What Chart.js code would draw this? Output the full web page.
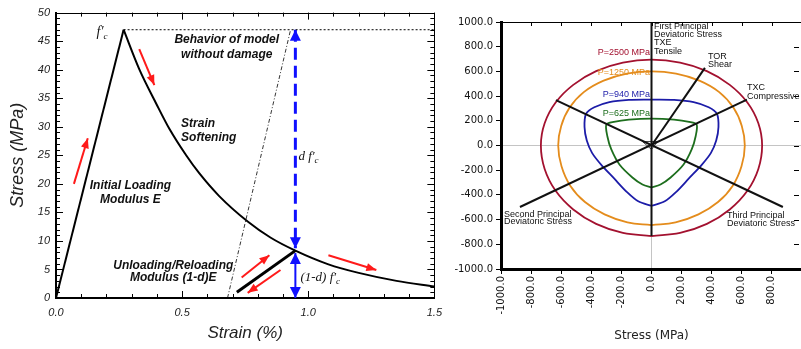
<!DOCTYPE html>
<html>
<head>
    <title>Damage model</title>
    <meta http-equiv="content-type" content="text/html;charset=UTF-8">
    <script src="https://cdn.jsdelivr.net/npm/chart.js"></script>
    <style>
        html, body {
            margin: 0;
            padding: 0;
            background: #fff;
        }

        body {
            width: 801px;
            height: 349px;
            overflow: hidden;
            position: relative;
        }

        .box {
            position: absolute;
            top: 0;
        }

        #left { left: 0; }
        #right { left: 450px; }
    </style>
</head>
<body>
<div class="box" id="left"><canvas id="stressChart" width="450" height="349"></canvas></div>
<div class="box" id="right"><canvas id="planeChart" width="360" height="349"></canvas></div>
<script>
    // ---------- left panel: stress vs strain ----------
    const strainTicks = [0, 0.5, 1.0, 1.5];
    const strainLabels = ['0.0', '0.5', '1.0', '1.5'];
    const stressTicks = [0, 5, 10, 15, 20, 25, 30, 35, 40, 45, 50];
    const stressLabels = ['0', '5', '10', '15', '20', '25', '30', '35', '40', '45', '50'];

    const loading = [[0, 0], [0.268, 47]];
    const softening = [[0.268, 47], [0.33, 40.1], [0.398, 34.0], [0.45, 29.6], [0.516, 25.0], [0.567, 21.9],
        [0.646, 17.9], [0.76, 13.4], [0.85, 10.6], [0.949, 8.3], [1.08, 5.9], [1.2, 4.4], [1.35, 3.0], [1.5, 2.0]];
    const unloading = [[0.717, 1.0], [0.949, 8.3]];
    const noDamage = [[0.268, 47], [1.5, 47]];
    const reloadPath = [[0.68, 0], [0.93, 47]];
    const damageArrow = [[0.949, 47], [0.949, 8.7]];
    const residualArrow = [[0.949, 7.9], [0.949, 0]];
    const redArrows = [
        [[0.071, 20], [0.126, 28]],
        [[0.33, 43.6], [0.39, 37.3]],
        [[0.736, 3.6], [0.846, 7.5]],
        [[0.89, 4.9], [0.76, 0.9]],
        [[1.08, 7.5], [1.27, 4.9]]
    ];

    const stressNotes = [
        {text: 'f\u2032', sub: 'c', x: 0.161, y: 46.5, font: 'italic 14px "Liberation Serif", serif', subFont: 'italic 9px "Liberation Serif", serif'},
        {text: 'Behavior of model', x: 0.677, y: 45.3, align: 'center', font: 'bold italic 12px "Liberation Sans", Arial, sans-serif'},
        {text: 'without damage', x: 0.677, y: 42.7, align: 'center', font: 'bold italic 12px "Liberation Sans", Arial, sans-serif'},
        {text: 'Strain', x: 0.496, y: 30.6, font: 'bold italic 12px "Liberation Sans", Arial, sans-serif'},
        {text: 'Softening', x: 0.496, y: 28.0, font: 'bold italic 12px "Liberation Sans", Arial, sans-serif'},
        {text: 'd f\u2032', sub: 'c', x: 0.961, y: 24.8, font: 'italic 13px "Liberation Serif", serif', subFont: 'italic 9px "Liberation Serif", serif'},
        {text: 'Initial Loading', x: 0.295, y: 19.6, align: 'center', font: 'bold italic 12px "Liberation Sans", Arial, sans-serif'},
        {text: 'Modulus E', x: 0.295, y: 17.2, align: 'center', font: 'bold italic 12px "Liberation Sans", Arial, sans-serif'},
        {text: 'Unloading/Reloading', x: 0.465, y: 5.7, align: 'center', font: 'bold italic 12px "Liberation Sans", Arial, sans-serif'},
        {text: 'Modulus (1-d)E', x: 0.465, y: 3.5, align: 'center', font: 'bold italic 12px "Liberation Sans", Arial, sans-serif'},
        {text: '(1-d) f\u2032', sub: 'c', x: 0.969, y: 3.5, font: 'italic 13px "Liberation Serif", serif', subFont: 'italic 9px "Liberation Serif", serif'}
    ];

    // ---------- right panel: deviatoric plane ----------
    const planeTicks = [-1000, -800, -600, -400, -200, 0, 200, 400, 600, 800, 1000];
    const planeLabels = ['-1000.0', '-800.0', '-600.0', '-400.0', '-200.0', '0.0', '200.0', '400.0', '600.0', '800.0', '1000.0'];
    const planeXTicks = [-1000, -800, -600, -400, -200, 0, 200, 400, 600, 800];

    const curve2500 = [[0, -733], [190, -708], [368, -635], [520, -518], [637, -367], [710, -190], [735, 0], [710, 180],
        [637, 348], [520, 491], [368, 602], [190, 671], [0, 695], [-190, 671], [-368, 602], [-520, 491], [-637, 348],
        [-710, 180], [-735, 0], [-710, -190], [-637, -367], [-520, -518], [-368, -635], [-190, -708], [0, -733]];
    const curve1250 = [[0, -644], [160, -622], [312, -558], [442, -458], [540, -325], [598, -168], [620, 0], [600, 158],
        [545, 305], [450, 432], [318, 525], [163, 582], [0, 600], [-163, 582], [-318, 525], [-450, 432], [-545, 305],
        [-600, 158], [-620, 0], [-598, -168], [-540, -325], [-442, -458], [-312, -558], [-160, -622], [0, -644]];
    const curve940 = [[0, -488], [88, -452], [165, -375], [250, -265], [335, -155], [395, -60], [430, 40], [445, 150],
        [435, 256], [380, 310], [280, 352], [150, 370], [0, 372], [-150, 370], [-280, 352], [-380, 310], [-435, 256],
        [-445, 150], [-430, 40], [-395, -60], [-335, -155], [-250, -265], [-165, -375], [-88, -452], [0, -488]];
    const curve625 = [[0, -340], [60, -316], [127, -259], [213, -154], [267, -32], [293, 73], [300, 170], [250, 192],
        [150, 210], [0, 218], [-150, 210], [-250, 192], [-300, 170], [-293, 73], [-267, -32], [-213, -154],
        [-127, -259], [-60, -316], [0, -340]];

    const firstAxis = [[0, 1000], [0, -733]];
    const txcLine = [[-874, -498], [634, 372]];
    const thirdLine = [[-635, 368], [873, -498]];
    const torLine = [[0, 0], [355, 628]];
    const originMark = [[-60, 32], [40, 32], [0, -32], [-60, 32]];

    const planeNotes = [
        {text: 'First Principal', x: 17, y: 960},
        {text: 'Deviatoric Stress', x: 17, y: 895},
        {text: 'TXE', x: 17, y: 830},
        {text: 'Tensile', x: 17, y: 757},
        {text: 'TOR', x: 375, y: 717},
        {text: 'Shear', x: 375, y: 652},
        {text: 'TXC', x: 635, y: 466},
        {text: 'Compressive', x: 635, y: 393},
        {text: 'Second Principal', x: -980, y: -555},
        {text: 'Deviatoric Stress', x: -980, y: -619},
        {text: 'Third Principal', x: 502, y: -563},
        {text: 'Deviatoric Stress', x: 502, y: -628},
        {text: 'P=2500 MPa', x: -10, y: 749, align: 'right', color: '#a3112f'},
        {text: 'P=1250 MPa', x: -10, y: 595, align: 'right', color: '#e48c1c'},
        {text: 'P=940 MPa', x: -10, y: 409, align: 'right', color: '#1c1ca8'},
        {text: 'P=625 MPa', x: -10, y: 263, align: 'right', color: '#1d6e1d'}
    ];

    const pts = a => a.map(p => ({x: p[0], y: p[1]}));

    function line(data, color, width, extra) {
        return Object.assign({
            data: pts(data),
            showLine: true,
            borderColor: color,
            backgroundColor: color,
            borderWidth: width,
            pointRadius: 0,
            fill: false
        }, extra || {});
    }

    // text written at data positions
    function notesPlugin(id, items, defFont) {
        return {
            id: id,
            afterDatasetsDraw(chart) {
                const {ctx, scales: {x, y}} = chart;
                ctx.save();
                ctx.textBaseline = 'middle';
                items.forEach(n => {
                    const px = x.getPixelForValue(n.x), py = y.getPixelForValue(n.y);
                    const align = n.align || 'left';
                    ctx.font = n.font || defFont;
                    ctx.fillStyle = n.color || '#111';
                    ctx.textAlign = align;
                    ctx.fillText(n.text, px, py);
                    if (n.sub) {
                        const w = ctx.measureText(n.text).width;
                        const end = align === 'center' ? px + w / 2 : (align === 'right' ? px : px + w);
                        ctx.font = n.subFont;
                        ctx.textAlign = 'left';
                        ctx.fillText(n.sub, end, py + 4);
                    }
                });
                ctx.restore();
            }
        };
    }

    // filled arrow heads on datasets that ask for them
    const arrowPlugin = {
        id: 'arrowHeads',
        afterDatasetsDraw(chart) {
            const ctx = chart.ctx;
            chart.data.datasets.forEach((ds, i) => {
                if (!ds.arrowEnd && !ds.arrowStart) return;
                const p = chart.getDatasetMeta(i).data;
                const a = p[0], b = p[p.length - 1];
                const head = (from, to) => {
                    const ang = Math.atan2(to.y - from.y, to.x - from.x);
                    const L = ds.headLen, W = ds.headWidth / 2;
                    ctx.beginPath();
                    ctx.moveTo(to.x, to.y);
                    ctx.lineTo(to.x - L * Math.cos(ang) + W * Math.sin(ang), to.y - L * Math.sin(ang) - W * Math.cos(ang));
                    ctx.lineTo(to.x - L * Math.cos(ang) - W * Math.sin(ang), to.y - L * Math.sin(ang) + W * Math.cos(ang));
                    ctx.closePath();
                    ctx.fill();
                };
                ctx.save();
                ctx.fillStyle = ds.borderColor;
                if (ds.arrowEnd) head(a, b);
                if (ds.arrowStart) head(b, a);
                ctx.restore();
            });
        }
    };

    // inner ticks and the top/right frame of the stress-strain plot
    const stressFrame = {
        id: 'stressFrame',
        afterDraw(chart) {
            const {ctx, chartArea: c, scales: {x, y}} = chart;
            const r = v => Math.round(v) + 0.5;
            ctx.save();
            ctx.strokeStyle = '#000';
            ctx.lineWidth = 1;
            ctx.beginPath();
            ctx.moveTo(c.left, r(c.top));
            ctx.lineTo(r(c.right), r(c.top));
            ctx.lineTo(r(c.right), c.bottom);
            for (let i = 0; i <= 15; i++) {
                const px = r(x.getPixelForValue(i / 10));
                const len = i % 5 === 0 ? 7 : 4;
                ctx.moveTo(px, c.bottom);
                ctx.lineTo(px, c.bottom - len);
                ctx.moveTo(px, c.top);
                ctx.lineTo(px, c.top + len);
            }
            for (let v = 0; v <= 50; v++) {
                const py = r(y.getPixelForValue(v));
                const len = v % 5 === 0 ? 7 : 4;
                ctx.moveTo(c.left, py);
                ctx.lineTo(c.left + len, py);
                ctx.moveTo(c.right, py);
                ctx.lineTo(c.right - len, py);
            }
            ctx.stroke();
            ctx.restore();
        }
    };

    const sansItalic = {family: '"Liberation Sans", Arial, sans-serif', style: 'italic'};

    const stressSets = [
        line(loading, '#000', 2),
        line(softening, '#000', 2, {cubicInterpolationMode: 'monotone'}),
        line(unloading, '#000', 3),
        line(noDamage, '#000', 1, {borderDash: [2, 2]}),
        line(reloadPath, '#000', 0.8, {borderDash: [4, 2, 1, 2]}),
        line(damageArrow, '#1010ff', 3, {borderDash: [12, 6], arrowEnd: true, arrowStart: true, headLen: 11, headWidth: 11}),
        line(residualArrow, '#1010ff', 2, {arrowEnd: true, arrowStart: true, headLen: 11, headWidth: 11})
    ];
    redArrows.forEach(a => stressSets.push(line(a, '#ff1a1a', 2, {arrowEnd: true, headLen: 10, headWidth: 8})));

    new Chart(document.getElementById('stressChart').getContext('2d'), {
        type: 'scatter',
        data: {datasets: stressSets},
        options: {
            responsive: false,
            animation: false,
            events: [],
            layout: {padding: {top: 10, right: 13, left: 0, bottom: 0}},
            plugins: {legend: {display: false}, tooltip: {enabled: false}},
            scales: {
                x: {
                    type: 'linear', min: 0, max: 1.5,
                    afterBuildTicks: s => { s.ticks = strainTicks.map(v => ({value: v})); },
                    afterFit: s => { s.height = 51; },
                    grid: {display: false, drawTicks: false},
                    border: {display: true, color: '#000', width: 2},
                    ticks: {
                        padding: 8, color: '#222', font: Object.assign({size: 11}, sansItalic),
                        callback: (v, i) => strainLabels[i]
                    },
                    title: {
                        display: true, text: 'Strain (%)', color: '#222',
                        font: Object.assign({size: 17}, sansItalic), padding: {top: 6, bottom: 6}
                    }
                },
                y: {
                    type: 'linear', min: 0, max: 50,
                    afterBuildTicks: s => { s.ticks = stressTicks.map(v => ({value: v})); },
                    afterFit: s => { s.width = 56; },
                    grid: {display: false, drawTicks: false},
                    border: {display: true, color: '#000', width: 2},
                    ticks: {
                        padding: 6, color: '#222', font: Object.assign({size: 11}, sansItalic),
                        callback: (v, i) => stressLabels[i]
                    },
                    title: {
                        display: true, text: 'Stress (MPa)', color: '#222',
                        font: Object.assign({size: 18}, sansItalic), padding: {top: 7, bottom: 7}
                    }
                }
            }
        },
        plugins: [stressFrame, arrowPlugin, notesPlugin('stressNotes', stressNotes, '12px sans-serif')]
    });

    // top border and right-hand ticks of the deviatoric plot
    const planeFrame = {
        id: 'planeFrame',
        afterDraw(chart) {
            const {ctx, chartArea: c, scales: {x, y}} = chart;
            const r = v => Math.round(v) + 0.5;
            ctx.save();
            ctx.strokeStyle = '#000';
            ctx.lineWidth = 1;
            ctx.beginPath();
            ctx.moveTo(c.left, r(c.top));
            ctx.lineTo(c.right, r(c.top));
            planeTicks.forEach(v => {
                const px = r(x.getPixelForValue(v));
                ctx.moveTo(px, c.top);
                ctx.lineTo(px, c.top + 4);
                const py = r(y.getPixelForValue(v));
                ctx.moveTo(c.right - 3, py);
                ctx.lineTo(c.right - 8, py);
            });
            ctx.stroke();
            ctx.restore();
        }
    };

    const zeroGrid = {
        display: true,
        drawOnChartArea: true,
        drawTicks: true,
        tickLength: 5,
        tickColor: '#000',
        color: c => (c.tick && c.tick.value === 0) ? '#c4c4c4' : 'rgba(0,0,0,0)'
    };
    const tickFont = {family: '"DejaVu Sans", Verdana, sans-serif', size: 10};

    new Chart(document.getElementById('planeChart').getContext('2d'), {
        type: 'scatter',
        data: {
            datasets: [
                line(firstAxis, '#111', 2),
                line(txcLine, '#111', 2),
                line(thirdLine, '#111', 2),
                line(torLine, '#111', 2),
                line(originMark, '#444', 1),
                line(curve625, '#1d6e1d', 1.8, {tension: 0.3}),
                line(curve940, '#1c1ca8', 1.8, {tension: 0.3}),
                line(curve1250, '#e48c1c', 1.8, {tension: 0.4}),
                line(curve2500, '#a3112f', 1.8, {tension: 0.4})
            ]
        },
        options: {
            responsive: false,
            animation: false,
            events: [],
            layout: {padding: {top: 22, right: 8, left: 0, bottom: 0}},
            plugins: {legend: {display: false}, tooltip: {enabled: false}},
            scales: {
                x: {
                    type: 'linear', min: -1000, max: 1000,
                    afterBuildTicks: s => { s.ticks = planeXTicks.map(v => ({value: v})); },
                    afterFit: s => { s.height = 80; },
                    grid: zeroGrid,
                    border: {display: true, color: '#000', width: 3},
                    ticks: {
                        autoSkip: false, minRotation: 90, maxRotation: 90, padding: 2,
                        color: '#111', font: tickFont,
                        callback: (v, i) => planeLabels[i]
                    },
                    title: {
                        display: true, text: 'Stress (MPa)', color: '#222',
                        font: {family: '"DejaVu Sans", Verdana, sans-serif', size: 12},
                        padding: {top: 6, bottom: 6}
                    }
                },
                y: {
                    type: 'linear', min: -1000, max: 1000,
                    afterBuildTicks: s => { s.ticks = planeTicks.map(v => ({value: v})); },
                    afterFit: s => { s.width = 51; },
                    grid: zeroGrid,
                    border: {display: true, color: '#000', width: 3},
                    ticks: {
                        padding: 3, color: '#111', font: tickFont,
                        callback: (v, i) => planeLabels[i]
                    }
                }
            }
        },
        plugins: [planeFrame, notesPlugin('planeNotes', planeNotes, '9px "Liberation Sans", Arial, sans-serif')]
    });
</script>
</body>
</html>
